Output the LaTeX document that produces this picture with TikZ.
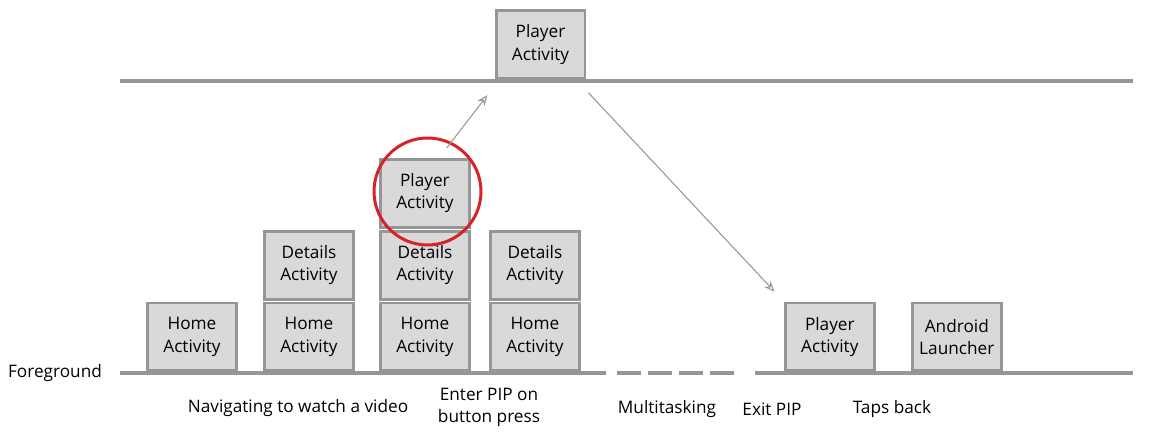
\documentclass[tikz,border=0pt]{standalone}
\usepackage{fontspec}
\setmainfont{Open Sans}
\usetikzlibrary{positioning, arrows.meta}
\definecolor{stackGray}{RGB}{150,150,150}
\definecolor{boxFill}{RGB}{217,217,217}
\definecolor{pipRed}{RGB}{215,35,40}

\begin{document}
\begin{tikzpicture}[
    x=0.02cm, y=0.02cm,
    node distance=0.02cm,
    act/.style={rectangle, draw=stackGray, fill=boxFill, line width=1.7pt,
                minimum width=1.78cm, minimum height=1.36cm, align=center,
                font=\fontsize{9.8}{13}\selectfont},
    lbl/.style={align=center, font=\fontsize{9.8}{13}\selectfont},
    ground/.style={stackGray, line width=2.3pt},
    arrow/.style={-{Stealth[open, length=6pt, width=5pt]}, stackGray, line width=0.6pt},
  ]
    \useasboundingbox (0,0) rectangle (1156,446);

    % stack lines
    \draw[ground] (120,365) -- (1133,365);
    \draw[ground] (120,73) -- (606,73);
    \draw[ground, dash pattern=on 0.48cm off 0.14cm] (617,73) -- (734,73);
    \draw[ground] (755,73) -- (1133,73);

    % Home row
    \node[act] (HOME1) at (192,109) {Home\\Activity};
    \node[act, right=0.5cm of HOME1] (HOME2) {Home\\Activity};
    \node[act, right=0.48cm of HOME2] (HOME3) {Home\\Activity};
    \node[act, right=0.36cm of HOME3] (HOME4) {Home\\Activity};

    % Details + Player
    \node[act, above=of HOME2] (DET2) {Details\\Activity};
    \node[act, above=of HOME3] (DET3) {Details\\Activity};
    \node[act, above=of HOME4] (DET4) {Details\\Activity};
    \node[act, above=of DET3] (PLAY3) {Player\\Activity};
    \node[draw=pipRed, line width=1.7pt, circle, minimum size=2.14cm] (RING) at (427.5,254.5) {};

    % PIP
    \node[act] (PIP) at (540.5,401.5) {Player\\Activity};

    % after PIP
    \node[act, right=4.06cm of HOME4] (PLAYR) {Player\\Activity};
    \node[act, right=0.7cm of PLAYR] (LAUNCH) {Android\\Launcher};

    % labels
    \node[lbl] (FG) at (55,73) {Foreground};
    \node[lbl] (NAV) at (298,38) {Navigating to watch a video};
    \node[lbl] (ENTER) at (489,38.5) {Enter PIP on\\button press};
    \node[lbl] (MULTI) at (667,37) {Multitasking};
    \node[lbl] (EXIT) at (772,37) {Exit PIP};
    \node[lbl] (BACK) at (892,37) {Taps back};

    \draw[arrow, shorten <=1.14cm, shorten >=1.28cm] ([xshift=-0.26cm]PLAY3.center) -- ([xshift=-0.28cm]PIP.center);
    \draw[arrow, shorten <=0.35cm, shorten >=0.27cm] ([xshift=-0.2cm]PIP.south east) -- (PLAYR.north west);
  \end{tikzpicture}
\end{document}
